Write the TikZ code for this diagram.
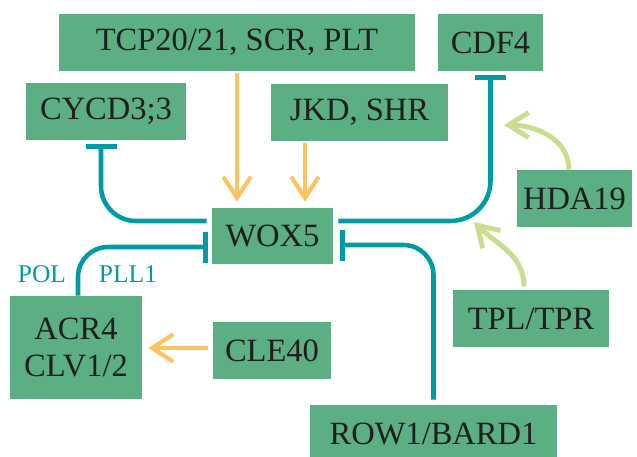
\documentclass[tikz,border=0pt]{standalone}
\usepackage{fontspec}
\setmainfont{Liberation Serif}
\usetikzlibrary{arrows.meta}

\definecolor{boxgreen}{RGB}{91,175,130}
\definecolor{inhteal}{RGB}{0,155,165}
\definecolor{actorange}{RGB}{252,196,96}
\definecolor{actlime}{RGB}{200,221,142}

\begin{document}
\begin{tikzpicture}[
    gene/.style={fill=boxgreen, text=black!88, inner sep=0pt, align=center,
        minimum height=1.14cm, font=\fontsize{18.5}{21.6}\selectfont},
    inhib/.style={draw=inhteal, line width=2.6pt, -{Bar[width=0.62cm]}},
    act/.style={draw=actorange, line width=2.4pt,
        -{Straight Barb[length=0.42cm, width=0.55cm]}},
    coact/.style={draw=actlime, line width=2.8pt,
        -{Straight Barb[length=0.4cm, width=0.5cm]}},
    lab/.style={text=inhteal, font=\fontsize{14.5}{16}\selectfont}
]
    \useasboundingbox (0,0) rectangle (12.74,9.12);

    % genai (dėžutės)
    \node[gene, minimum width=7.12cm] (tcp) at (4.74,8.27) {TCP20/21, SCR, PLT};
    \node[gene, minimum width=2.10cm] (cdf) at (9.81,8.27) {CDF4};
    \node[gene, minimum width=3.20cm] (cycd) at (2.12,6.89) {CYCD3;3};
    \node[gene, minimum width=3.54cm] (jkd) at (7.19,6.87) {JKD, SHR};
    \node[gene, minimum width=2.42cm, minimum height=1.12cm] (wox) at (5.45,4.40) {WOX5};
    \node[gene, minimum width=2.30cm] (hda) at (11.49,5.15) {HDA19};
    \node[gene, minimum width=3.12cm] (tpl) at (10.62,2.75) {TPL/TPR};
    \node[gene, minimum width=2.64cm, minimum height=2.06cm] (acr) at (1.52,2.17) {ACR4\\CLV1/2};
    \node[gene, minimum width=2.36cm] (cle) at (5.44,2.11) {CLE40};
    \node[gene, minimum width=4.94cm] (row) at (8.67,0.45) {ROW1/BARD1};

    \node[lab] (pol) at (0.84,3.64) {POL};
    \node[lab] (pll) at (2.56,3.64) {PLL1};

    % slopinimas
    \draw[inhib, rounded corners=0.7cm] ([xshift=-0.1cm,yshift=0.3cm]wox.west)
        -| ([xshift=-0.1cm,yshift=-0.08cm]cycd.south);
    \draw[inhib, rounded corners=0.8cm] ([xshift=0.1cm,yshift=0.3cm]wox.east)
        -| ([yshift=-0.08cm]cdf.south);
    \draw[inhib, rounded corners=0.6cm] ([xshift=0.04cm]acr.north)
        |- ([xshift=-0.08cm,yshift=-0.22cm]wox.west);
    \draw[inhib, rounded corners=0.6cm] ([yshift=0.1cm]row.north)
        |- ([xshift=0.14cm,yshift=-0.18cm]wox.east);

    % aktyvacija
    \coordinate (jkdfoot) at ([xshift=-1.09cm,yshift=-0.04cm]jkd.south);
    \coordinate (clefoot) at ([xshift=-0.1cm,yshift=0.05cm]cle.west);
    \draw[act, shorten >=0.12cm] ([yshift=-0.04cm]tcp.south) -- (tcp.south |- wox.north);
    \draw[act, shorten >=0.12cm] (jkdfoot) -- (jkdfoot |- wox.north);
    \draw[act, shorten >=0.12cm] (clefoot) -- (clefoot -| acr.east);

    \coordinate (hdatip) at (10.08,6.62);
    \coordinate (tpltip) at (9.48,4.68);
    \draw[coact] ([xshift=-0.11cm]hda.north) to[out=90, in=0] (hdatip);
    \draw[coact] ([xshift=-0.14cm,yshift=0.06cm]tpl.north) to[out=90, in=-45] (tpltip);
\end{tikzpicture}
\end{document}
